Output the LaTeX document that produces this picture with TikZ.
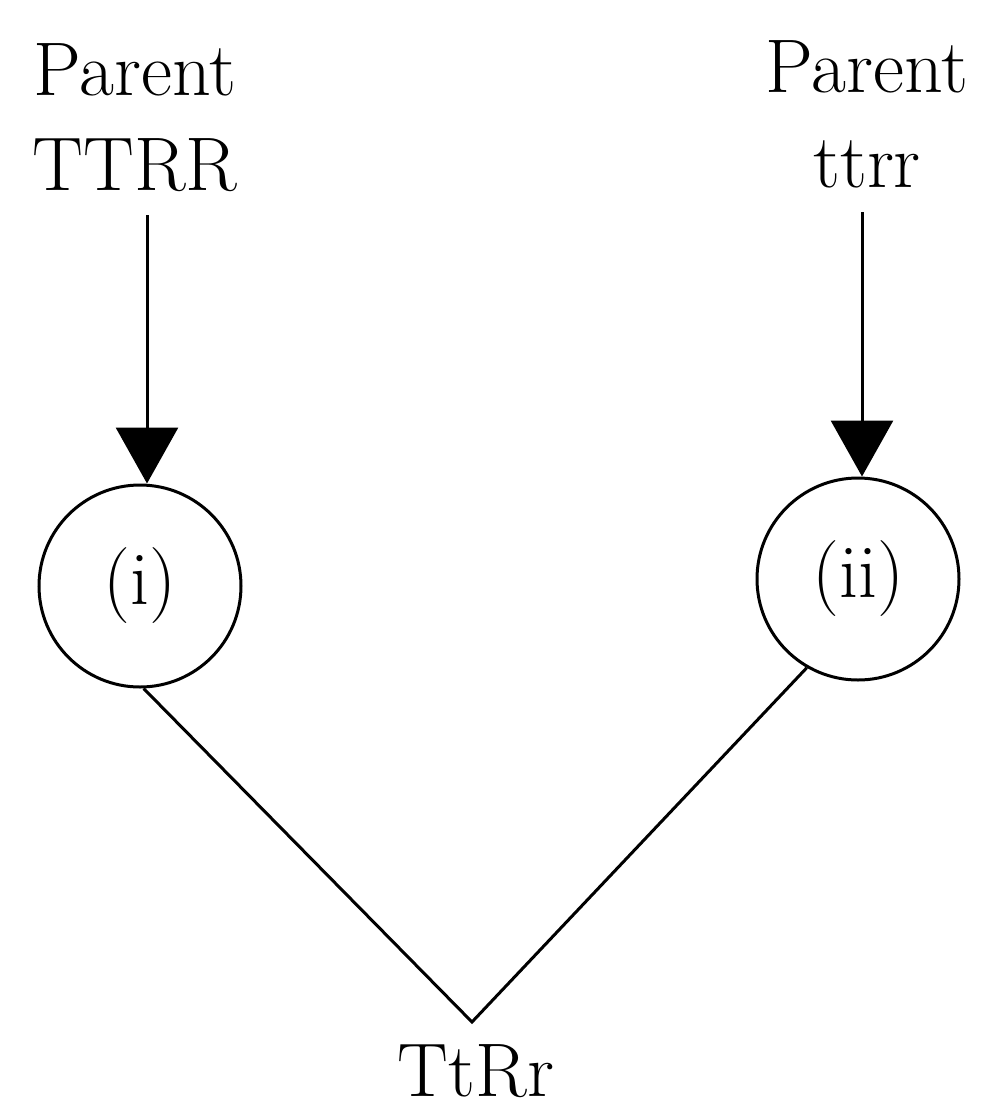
\documentclass[tikz,border=0pt]{standalone}
\usepackage{fontspec}
\usetikzlibrary{arrows.meta}
\tikzset{
  lbl/.style={font=\fontsize{38}{47.5}\selectfont, inner sep=0pt, align=center},
  gen/.style={circle, draw, line width=1.5pt, minimum size=101pt, inner sep=0pt, font=\fontsize{38}{47.5}\selectfont},
  conn/.style={line width=1.5pt},
  arr/.style={line width=1.5pt, -{Triangle[length=28pt,width=31pt]}}
}
\begin{document}
\begin{tikzpicture}[x=0.5pt,y=-0.5pt]
\useasboundingbox (0,0) rectangle (987,1109);
\node[lbl, anchor=base] (p1) at (135,190) {Parent\\TTRR};
\node[lbl, anchor=base] (p2) at (867,187) {Parent\\ttrr};
\node[gen] (c1) at (140,586) {(i)};
\node[gen] (c2) at (858,579) {(ii)};
\coordinate (t1) at (147,215);
\coordinate (t2) at (862,212);
\coordinate (apex) at (472,1022);
\node[lbl, anchor=base] (child) at (476,1096) {TtRr};
\draw[arr] (t1) -- (t1 |- c1.north);
\draw[arr] (t2) -- (t2 |- c2.north);
\draw[conn, line join=miter] (c1.272) -- (apex) -- (c2.240);
\end{tikzpicture}
\end{document}
